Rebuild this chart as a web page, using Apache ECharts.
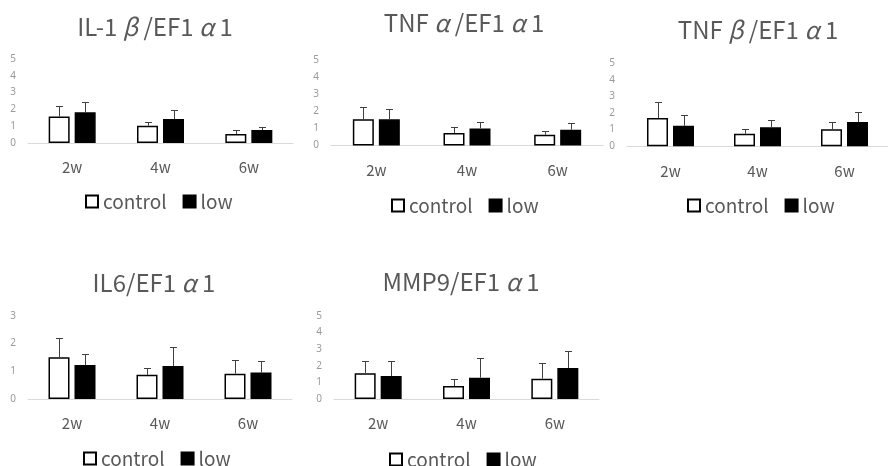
<!DOCTYPE html>
<html>
<head>
<meta charset="utf-8">
<script src="https://cdn.jsdelivr.net/npm/echarts@6/dist/echarts.min.js"></script>
<style>
html,body{margin:0;padding:0;background:#fff;}
#c{width:888px;height:466px;}
</style>
</head>
<body>
<div id="c"></div>
<script>
// ---- data ----
const categories = ['2w', '4w', '6w'];
const seriesNames = ['control', 'low'];
const titles = ['IL-1β/EF1α1', 'TNFα/EF1α1', 'TNFβ/EF1α1', 'IL6/EF1α1', 'MMP9/EF1α1'];
const yMax = [5, 5, 5, 3, 5];

const il1bControl = [1.57, 1.03, 0.54];
const il1bControlSD = [0.63, 0.24, 0.23];
const il1bLow = [1.83, 1.43, 0.77];
const il1bLowSD = [0.59, 0.53, 0.18];

const tnfaControl = [1.53, 0.73, 0.63];
const tnfaControlSD = [0.72, 0.35, 0.24];
const tnfaLow = [1.53, 1.00, 0.92];
const tnfaLowSD = [0.62, 0.39, 0.38];

const tnfbControl = [1.70, 0.75, 1.02];
const tnfbControlSD = [0.97, 0.27, 0.45];
const tnfbLow = [1.23, 1.14, 1.46];
const tnfbLowSD = [0.63, 0.44, 0.61];

const il6Control = [1.50, 0.87, 0.91];
const il6ControlSD = [0.69, 0.23, 0.49];
const il6Low = [1.22, 1.19, 0.95];
const il6LowSD = [0.39, 0.69, 0.43];

const mmp9Control = [1.54, 0.78, 1.22];
const mmp9ControlSD = [0.76, 0.42, 0.96];
const mmp9Low = [1.38, 1.28, 1.86];
const mmp9LowSD = [0.92, 1.16, 1.04];

const panelData = [
  [il1bControl, il1bControlSD, il1bLow, il1bLowSD],
  [tnfaControl, tnfaControlSD, tnfaLow, tnfaLowSD],
  [tnfbControl, tnfbControlSD, tnfbLow, tnfbLowSD],
  [il6Control, il6ControlSD, il6Low, il6LowSD],
  [mmp9Control, mmp9ControlSD, mmp9Low, mmp9LowSD]
];

// ---- layout ----
const layout = [
  {grid: {left: 28, top: 59, width: 265, height: 84}, titleX: 155, titleY: 15, legendX: 85, legendY: 192},
  {grid: {left: 331, top: 60, width: 272, height: 85.5}, titleX: 464, titleY: 11, legendX: 391, legendY: 196},
  {grid: {left: 627, top: 63, width: 271, height: 83.3}, titleX: 758, titleY: 18, legendX: 687, legendY: 196},
  {grid: {left: 28, top: 315.7, width: 264, height: 83.3}, titleX: 154, titleY: 271, legendX: 83, legendY: 449},
  {grid: {left: 334, top: 315.7, width: 265, height: 83.3}, titleX: 461, titleY: 270, legendX: 389, legendY: 450}
];

const BAR_W = 21, BAR_GAP = 5;
const OFF = (BAR_W + BAR_GAP) / 2;
const textColor = '#595959';
const jpFont = '"Noto Sans CJK JP", "Noto Sans", sans-serif';
const TITLE_SIZE = 24;

function richTitle(t) {
  // Greek letters are drawn in full-width cells, as in the original
  return t.replace(/([αβ])/g, '{g|$1}');
}

function errRender(side) {
  return function (params, api) {
    const i = api.value(0), m = api.value(1), s = api.value(2);
    const p0 = api.coord([i, m]);
    const p1 = api.coord([i, m + s]);
    const x = Math.round(p0[0] + side * OFF) + 0.5;
    const yt = Math.round(p1[1]) + 0.5;
    const st = {stroke: '#404040', lineWidth: 1};
    return {
      type: 'group',
      children: [
        {type: 'line', shape: {x1: x, y1: p0[1], x2: x, y2: yt}, style: st},
        {type: 'line', shape: {x1: x - 3.5, y1: yt, x2: x + 3.5, y2: yt}, style: st}
      ]
    };
  };
}

const option = {
  animation: false,
  backgroundColor: '#fff',
  title: [], legend: [], grid: [], xAxis: [], yAxis: [], series: []
};

layout.forEach((L, k) => {
  option.grid.push(Object.assign({containLabel: false}, L.grid));
  option.title.push({
    text: richTitle(titles[k]), left: L.titleX, top: L.titleY, textAlign: 'center', padding: 0,
    textStyle: {
      fontFamily: jpFont, fontSize: TITLE_SIZE, fontWeight: 'normal', color: textColor,
      rich: {
        g: {fontFamily: jpFont, fontSize: TITLE_SIZE, fontWeight: 'normal', fontStyle: 'italic',
            color: textColor, width: 26, align: 'center'}
      }
    }
  });
  option.legend.push({
    data: seriesNames, left: L.legendX, top: L.legendY, orient: 'horizontal', padding: 0,
    itemWidth: 12, itemHeight: 12, itemGap: 16, icon: 'rect',
    textStyle: {fontFamily: jpFont, fontSize: 19, fontWeight: 'normal', color: textColor},
    selectedMode: false
  });
  option.xAxis.push({
    type: 'category', gridIndex: k, data: categories,
    axisLine: {lineStyle: {color: '#d9d9d9', width: 1}},
    axisTick: {show: false},
    axisLabel: {fontFamily: jpFont, fontSize: 15, fontWeight: 'normal', color: textColor, margin: 17}
  });
  option.yAxis.push({
    type: 'value', gridIndex: k, min: 0, max: yMax[k], interval: 1,
    axisLine: {show: false}, axisTick: {show: false}, splitLine: {show: false},
    axisLabel: {fontFamily: '"Liberation Sans Narrow", "Noto Sans", sans-serif', fontSize: 10, color: '#9a9a9a', margin: 12}
  });
  const d = panelData[k];
  option.series.push({
    name: 'control', type: 'bar', xAxisIndex: k, yAxisIndex: k,
    data: d[0], barWidth: BAR_W, barGap: (BAR_GAP / BAR_W * 100) + '%',
    itemStyle: {color: '#ffffff', borderColor: '#000000', borderWidth: 1.5}
  });
  option.series.push({
    name: 'low', type: 'bar', xAxisIndex: k, yAxisIndex: k,
    data: d[2], barWidth: BAR_W,
    itemStyle: {color: '#000000', borderColor: '#000000', borderWidth: 1.5}
  });
  option.series.push({
    name: 'control-err', type: 'custom', xAxisIndex: k, yAxisIndex: k, z: 3,
    renderItem: errRender(-1),
    data: d[0].map((v, i) => [i, v, d[1][i]])
  });
  option.series.push({
    name: 'low-err', type: 'custom', xAxisIndex: k, yAxisIndex: k, z: 3,
    renderItem: errRender(1),
    data: d[2].map((v, i) => [i, v, d[3][i]])
  });
});

const chart = echarts.init(document.getElementById('c'), null, {renderer: 'canvas'});
chart.setOption(option);
</script>
</body>
</html>
